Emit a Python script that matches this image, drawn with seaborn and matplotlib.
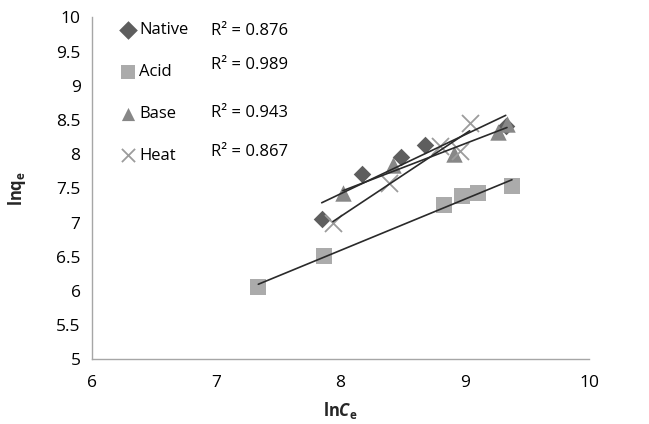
import numpy as np
import pandas as pd
import matplotlib
matplotlib.use("Agg")
import matplotlib.pyplot as plt
import seaborn as sns

# values
native_x = [7.85, 8.17, 8.49, 8.68, 9.33]
native_y = [7.05, 7.71, 7.96, 8.14, 8.41]
acid_x = [7.34, 7.87, 8.83, 8.98, 9.11, 9.38]
acid_y = [6.06, 6.51, 7.26, 7.39, 7.43, 7.53]
base_x = [8.02, 8.42, 8.91, 9.27, 9.34]
base_y = [7.43, 7.84, 8.00, 8.32, 8.44]
heat_x = [7.94, 8.39, 8.80, 8.96, 9.04]
heat_y = [7.00, 7.58, 8.12, 8.05, 8.46]
r2_labels = ["R\u00b2 = 0.876", "R\u00b2 = 0.989", "R\u00b2 = 0.943", "R\u00b2 = 0.867"]

series = {"Native": (native_x, native_y), "Acid": (acid_x, acid_y),
          "Base": (base_x, base_y), "Heat": (heat_x, heat_y)}
df = pd.concat([pd.DataFrame({"lnCe": x, "lnqe": y, "treatment": k})
                for k, (x, y) in series.items()], ignore_index=True)

sns.set_theme(style="white")
plt.rcParams["font.family"] = ["Open Sans", "DejaVu Sans"]
plt.rcParams["mathtext.fontset"] = "custom"
plt.rcParams["mathtext.rm"] = "Open Sans:bold"
plt.rcParams["mathtext.it"] = "Open Sans:italic:bold"

palette = {"Native": "#5e5e5e", "Acid": "#ababab", "Base": "#878787", "Heat": "#9c9c9c"}
markers = {"Native": "D", "Acid": "s", "Base": "^", "Heat": "x"}
sizes = {"Native": 80, "Acid": 140, "Base": 140, "Heat": 150}

fig = plt.figure(figsize=(6.49, 4.24), dpi=100)
ax = fig.add_axes([0.1413, 0.1526, 0.7663, 0.8064])

for name in series:
    sub = df[df.treatment == name]
    sns.scatterplot(data=sub, x="lnCe", y="lnqe", marker=markers[name],
                    color=palette[name], s=sizes[name], ax=ax, label=name,
                    linewidth=1.3 if name == "Heat" else 0, zorder=2)
for name in series:
    sub = df[df.treatment == name]
    sns.regplot(data=sub, x="lnCe", y="lnqe", scatter=False, ci=None,
                truncate=True, ax=ax,
                line_kws={"color": "#2a2a2a", "lw": 1.2, "zorder": 3})

ax.set_xlim(6, 10)
ax.set_ylim(5, 10)
ax.set_xticks(np.arange(6, 10.5, 1))
ax.set_yticks(np.arange(5, 10.5, 0.5))
ax.set_yticklabels([f"{v:g}" for v in np.arange(5, 10.5, 0.5)])
for s in ["top", "right"]:
    ax.spines[s].set_visible(False)
for s in ["left", "bottom"]:
    ax.spines[s].set_color("#a6a6a6")
    ax.spines[s].set_linewidth(1.0)
ax.tick_params(axis="both", direction="out", length=5, width=1.0,
               color="#a6a6a6", labelsize=12.5, labelcolor="#000000", pad=3)
ax.tick_params(axis="x", pad=6)

ax.set_xlabel(r"ln$C_\mathrm{e}$", fontsize=12, fontweight="bold", labelpad=7)
ax.set_ylabel(r"lnq$_\mathrm{e}$", fontsize=12, fontweight="bold", labelpad=20)

leg = ax.legend(loc="upper left", bbox_to_anchor=(0.04, 1.005), frameon=False,
                fontsize=12, labelspacing=1.55, handletextpad=0.05,
                handlelength=1.2, borderaxespad=0, labelcolor="#000000")
for h in leg.legend_handles:
    h.set_sizes([90])

for lbl, yy in zip(r2_labels, [0.960, 0.860, 0.719, 0.605]):
    ax.text(0.24, yy, lbl, transform=ax.transAxes, fontsize=12,
            va="center", ha="left", color="#000000")

fig.savefig("out.png", dpi=100, facecolor="white")
